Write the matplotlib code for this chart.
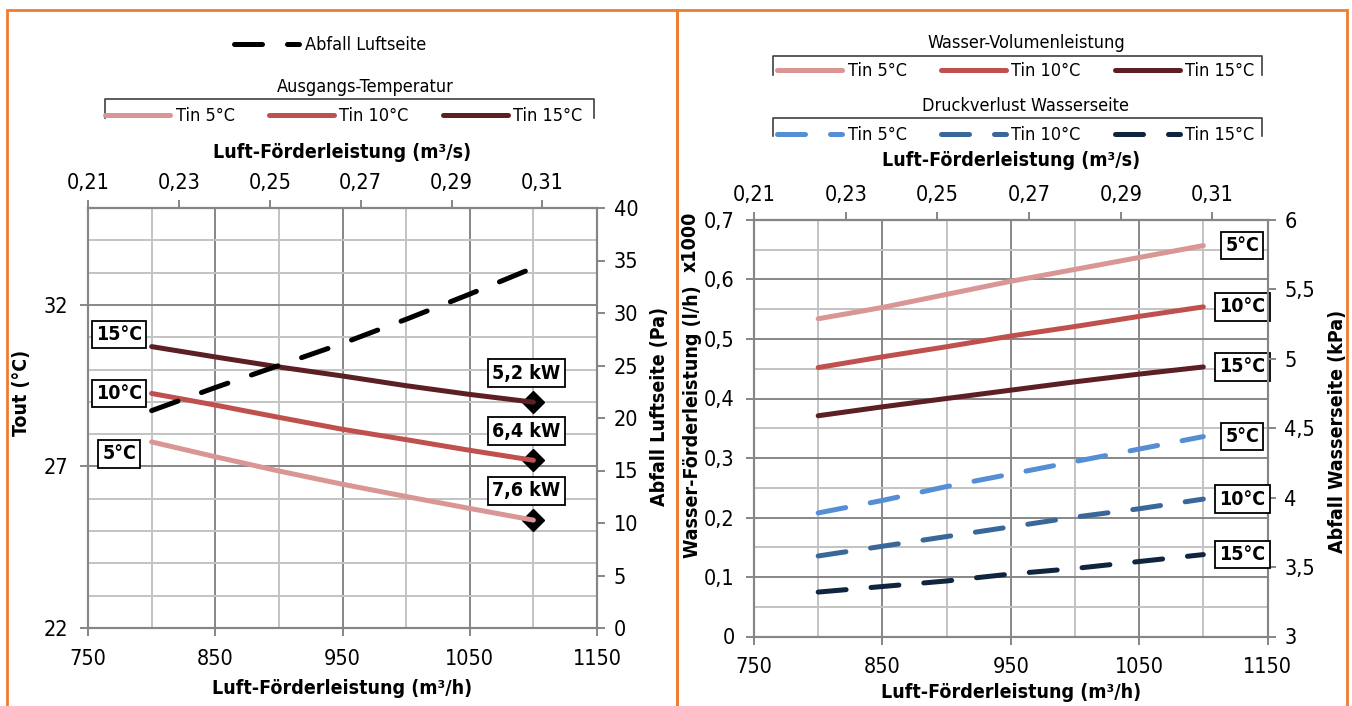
import numpy as np
import matplotlib
matplotlib.use("Agg")
import matplotlib.pyplot as plt
from matplotlib import font_manager
from matplotlib.lines import Line2D
from matplotlib.patches import Rectangle
from matplotlib.ticker import FuncFormatter, MultipleLocator, FixedLocator


# ============================================================
# DATA
# ============================================================

AIR_FLOW = [800, 850, 900, 950, 1000, 1050, 1100]  # Luft-Förderleistung m³/h

# left chart: outlet temperature (°C) and air side pressure drop (Pa)
TOUT_5 = [27.76, 27.30, 26.86, 26.45, 26.07, 25.70, 25.34]
TOUT_10 = [29.26, 28.90, 28.52, 28.15, 27.83, 27.50, 27.19]
TOUT_15 = [30.71, 30.39, 30.08, 29.80, 29.50, 29.23, 28.99]
AIR_DP = [20.7, 22.9, 25.0, 27.1, 29.4, 31.8, 34.3]

POWER_LABELS = ["7,6 kW", "6,4 kW", "5,2 kW"]
TIN_LABELS = ["5°C", "10°C", "15°C"]
LEGEND_LABELS = ["Tin 5°C", "Tin 10°C", "Tin 15°C"]

# right chart: water flow (x1000 l/h) and water side pressure drop (kPa)
WATER_5 = [0.534, 0.553, 0.575, 0.597, 0.617, 0.637, 0.657]
WATER_10 = [0.452, 0.470, 0.487, 0.505, 0.521, 0.538, 0.554]
WATER_15 = [0.371, 0.386, 0.400, 0.414, 0.428, 0.441, 0.453]

WATER_DP_5 = [3.89, 3.98, 4.08, 4.17, 4.26, 4.35, 4.44]
WATER_DP_10 = [3.58, 3.65, 3.72, 3.79, 3.86, 3.92, 3.99]
WATER_DP_15 = [3.32, 3.36, 3.40, 3.45, 3.49, 3.54, 3.59]

X_MAJOR = [750, 850, 950, 1050, 1150]
X_MINOR = [800, 900, 1000, 1100]
TOP_TICKS = [0.21, 0.23, 0.25, 0.27, 0.29, 0.31]


# ============================================================
# STYLE
# ============================================================

names = {f.name for f in font_manager.fontManager.ttflist}
if "Liberation Sans Narrow" in names:
    plt.rcParams["font.family"] = ["Liberation Sans Narrow", "DejaVu Sans"]
else:
    plt.rcParams["font.family"] = ["DejaVu Sans"]
    plt.rcParams["font.stretch"] = "condensed"

REDS = ["#D99694", "#C0504D", "#5C1F24"]
BLUES = ["#558ED5", "#3A6799", "#0F243E"]
ORANGE = "#ED7D31"
AXIS_GRAY = "#868686"
MAJOR_GRID = "#878787"
MINOR_GRID = "#C3C3C3"

TICK_SIZE = 15.5
LABEL_SIZE = 14
LEGEND_SIZE = 13
LW = 3.6
DASHES = (5.6, 5.0)

W, H = 1352, 706


def ax_rect(x0, y0, x1, y1):
    return [x0 / W, 1 - y1 / H, (x1 - x0) / W, (y1 - y0) / H]


def fig_xy(px, py):
    return (px / W, 1 - py / H)


def comma_fmt(v, pos):
    return f"{round(v, 3):g}".replace(".", ",")


def style_axes(ax, twin):
    for s in list(ax.spines.values()) + list(twin.spines.values()):
        s.set_color(AXIS_GRAY)
        s.set_linewidth(1.5)
    ax.set_axisbelow(True)
    ax.set_xlim(750, 1150)
    ax.xaxis.set_major_locator(FixedLocator(X_MAJOR))
    ax.xaxis.set_minor_locator(FixedLocator(X_MINOR))
    ax.grid(which="major", color=MAJOR_GRID, lw=1.4)
    ax.grid(which="minor", color=MINOR_GRID, lw=1.4)
    ax.tick_params(which="minor", length=0)
    ax.tick_params(axis="y", which="major", direction="out", length=6,
                   width=1.4, color=AXIS_GRAY, pad=8, labelsize=TICK_SIZE)
    ax.tick_params(axis="x", which="major", direction="out", length=6,
                   width=1.4, color=AXIS_GRAY, pad=9, labelsize=TICK_SIZE)
    twin.tick_params(axis="y", direction="out", length=6, width=1.4,
                     color=AXIS_GRAY, pad=6, labelsize=TICK_SIZE)
    ax.yaxis.set_major_formatter(FuncFormatter(comma_fmt))
    twin.yaxis.set_major_formatter(FuncFormatter(comma_fmt))


def add_top_axis(ax):
    lo, hi = 0.21, 0.322
    fwd = lambda x: lo + (np.asarray(x) - 750) * (hi - lo) / 400
    inv = lambda x: 750 + (np.asarray(x) - lo) * 400 / (hi - lo)
    sec = ax.secondary_xaxis("top", functions=(fwd, inv))
    sec.xaxis.set_major_locator(FixedLocator(TOP_TICKS))
    sec.xaxis.set_major_formatter(FuncFormatter(comma_fmt))
    sec.tick_params(direction="out", length=6, width=1.4, color=AXIS_GRAY,
                    pad=5, labelsize=TICK_SIZE)
    for s in sec.spines.values():
        s.set_color(AXIS_GRAY)
        s.set_linewidth(1.5)
    return sec


def bracket(fig, x0, x1, y_top, y_bot):
    xs = [x0, x0, x1, x1]
    ys = [y_bot, y_top, y_top, y_bot]
    fig.add_artist(Line2D([x / W for x in xs], [1 - y / H for y in ys],
                          transform=fig.transFigure, color="#404040", lw=1.2))


def legend(fig, handles, labels, px, py, ncol):
    fig.legend(handles, labels, loc="center", bbox_to_anchor=fig_xy(px, py),
               ncol=ncol, frameon=False, fontsize=LEGEND_SIZE,
               handlelength=3.6, handletextpad=0.3, columnspacing=1.9,
               borderpad=0, borderaxespad=0)


box = dict(boxstyle="square,pad=0.22", fc="white", ec="black", lw=1.3)

fig = plt.figure(figsize=(W / 100, H / 100), dpi=100)

# orange panel frames
for x0, x1 in [(7, 677), (677, 1347)]:
    fig.add_artist(Rectangle(fig_xy(x0, 730), (x1 - x0) / W, 720 / H,
                             transform=fig.transFigure, fill=False,
                             ec=ORANGE, lw=2))


# ============================================================
# LEFT CHART
# ============================================================

ax1 = fig.add_axes(ax_rect(88, 208, 597, 628))
ax1r = ax1.twinx()
style_axes(ax1, ax1r)

ax1.set_ylim(22, 35)
ax1.yaxis.set_major_locator(FixedLocator([22, 27, 32]))
ax1.yaxis.set_minor_locator(MultipleLocator(1))
ax1r.set_ylim(0, 40)
ax1r.yaxis.set_major_locator(MultipleLocator(5))

tout_lines = []
for series, col in zip([TOUT_5, TOUT_10, TOUT_15], REDS):
    ax1.plot(AIR_FLOW[-1], series[-1], "D", ms=11.5, color="black", zorder=2)
    ln, = ax1.plot(AIR_FLOW, series, color=col, lw=LW,
                   solid_capstyle="round", zorder=3)
    tout_lines.append(ln)

dp_line, = ax1r.plot(AIR_FLOW, AIR_DP, color="black", lw=LW,
                     dashes=DASHES, dash_capstyle="round")

for series, lab, dy in zip([TOUT_5, TOUT_10, TOUT_15], TIN_LABELS, [-8.6, 0, 8.6]):
    ax1.annotate(lab, xy=(AIR_FLOW[0], series[0]), xytext=(-23.4, dy),
                 textcoords="offset points", ha="center", va="center",
                 fontsize=LABEL_SIZE, fontweight="bold", bbox=box, zorder=5)

for series, lab in zip([TOUT_5, TOUT_10, TOUT_15], POWER_LABELS):
    ax1.annotate(lab, xy=(AIR_FLOW[-1], series[-1]), xytext=(-5, 21),
                 textcoords="offset points", ha="center", va="center",
                 fontsize=LABEL_SIZE, fontweight="bold", bbox=box, zorder=5)

add_top_axis(ax1)
ax1.text(0.5, 1 + 55 / 420, "Luft-Förderleistung (m³/s)", transform=ax1.transAxes,
         ha="center", va="center", fontsize=LABEL_SIZE, fontweight="bold")
ax1.set_xlabel("Luft-Förderleistung (m³/h)", fontsize=LABEL_SIZE, fontweight="bold")
ax1.xaxis.set_label_coords(0.5, (628 - 688) / 420)
ax1.xaxis.label.set_va("center")
ax1.set_ylabel("Tout (°C)", fontsize=LABEL_SIZE, fontweight="bold")
ax1.yaxis.set_label_coords((22 - 88) / 509, (628 - 393) / 420)
ax1.yaxis.label.set_va("center")
ax1r.set_ylabel("Abfall Luftseite (Pa)", fontsize=LABEL_SIZE, fontweight="bold")
ax1r.yaxis.set_label_coords((660 - 88) / 509, (628 - 406) / 420)
ax1r.yaxis.label.set_va("center")

legend(fig, [dp_line], ["Abfall Luftseite"], 330, 45, 1)
fig.text(*fig_xy(365, 87), "Ausgangs-Temperatur", ha="center", va="center",
         fontsize=LEGEND_SIZE)
bracket(fig, 105, 594, 99, 118)
legend(fig, tout_lines, LEGEND_LABELS, 344, 116, 3)


# ============================================================
# RIGHT CHART
# ============================================================

ax2 = fig.add_axes(ax_rect(754, 220, 1267.5, 636.5))
ax2r = ax2.twinx()
style_axes(ax2, ax2r)

ax2.set_ylim(0, 0.7)
ax2.yaxis.set_major_locator(MultipleLocator(0.1))
ax2.yaxis.set_minor_locator(MultipleLocator(0.05))
ax2r.set_ylim(3, 6)
ax2r.yaxis.set_major_locator(MultipleLocator(0.5))

water_lines = []
for series, col, lab in zip([WATER_5, WATER_10, WATER_15], REDS, TIN_LABELS):
    ln, = ax2.plot(AIR_FLOW, series, color=col, lw=LW, solid_capstyle="round")
    water_lines.append(ln)
    ax2.annotate(lab, xy=(AIR_FLOW[-1], series[-1]), xytext=(28, 0),
                 textcoords="offset points", ha="center", va="center",
                 fontsize=LABEL_SIZE, fontweight="bold", bbox=box, zorder=5)

wdp_lines = []
for series, col, lab in zip([WATER_DP_5, WATER_DP_10, WATER_DP_15], BLUES, TIN_LABELS):
    ln, = ax2r.plot(AIR_FLOW, series, color=col, lw=LW, dashes=DASHES,
                    dash_capstyle="round")
    wdp_lines.append(ln)
    ax2r.annotate(lab, xy=(AIR_FLOW[-1], series[-1]), xytext=(28, 0),
                  textcoords="offset points", ha="center", va="center",
                  fontsize=LABEL_SIZE, fontweight="bold", bbox=box, zorder=5)

add_top_axis(ax2)
ax2.text(0.5, 1 + 60 / 416.5, "Luft-Förderleistung (m³/s)", transform=ax2.transAxes,
         ha="center", va="center", fontsize=LABEL_SIZE, fontweight="bold")
ax2.set_xlabel("Luft-Förderleistung (m³/h)", fontsize=LABEL_SIZE, fontweight="bold")
ax2.xaxis.set_label_coords(0.5, (636.5 - 693) / 416.5)
ax2.xaxis.label.set_va("center")
ax2.set_ylabel("Wasser-Förderleistung (l/h)", fontsize=LABEL_SIZE, fontweight="bold")
ax2.yaxis.set_label_coords((692 - 754) / 513.5, (636.5 - 422) / 416.5)
ax2.yaxis.label.set_va("center")
ax2.text((690 - 754) / 513.5, (636.5 - 242) / 416.5, "x1000", transform=ax2.transAxes,
         rotation=90, ha="center", va="center", fontsize=LABEL_SIZE,
         fontweight="bold")
ax2r.set_ylabel("Abfall Wasserseite (kPa)", fontsize=LABEL_SIZE, fontweight="bold")
ax2r.yaxis.set_label_coords((1337 - 754) / 513.5, (636.5 - 431) / 416.5)
ax2r.yaxis.label.set_va("center")

fig.text(*fig_xy(1026, 43), "Wasser-Volumenleistung", ha="center", va="center",
         fontsize=LEGEND_SIZE)
bracket(fig, 773, 1262, 56, 75)
legend(fig, water_lines, LEGEND_LABELS, 1016, 71, 3)

fig.text(*fig_xy(1026, 106), "Druckverlust Wasserseite", ha="center", va="center",
         fontsize=LEGEND_SIZE)
bracket(fig, 773, 1262, 118, 136)
legend(fig, wdp_lines, LEGEND_LABELS, 1016, 135, 3)

fig.savefig("out.png", dpi=100)
